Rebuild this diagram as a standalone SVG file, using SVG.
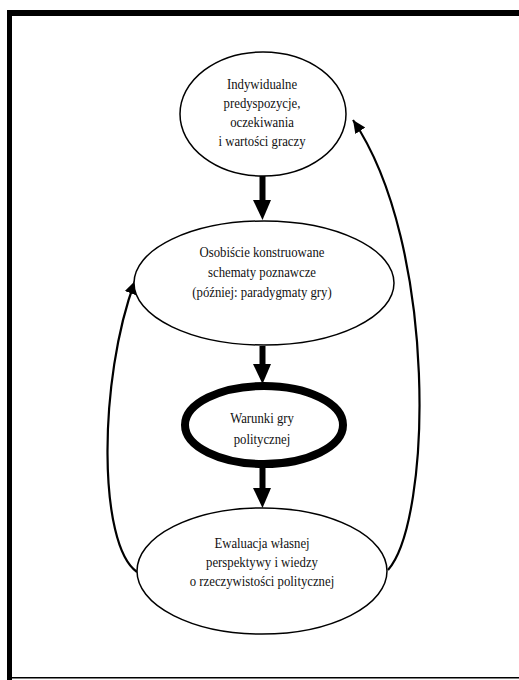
<svg xmlns="http://www.w3.org/2000/svg" width="519" height="680" viewBox="0 0 519 680">
<style>
.node ellipse{fill:#fff;stroke:#000;stroke-width:1.5}
.node text{font-family:"Liberation Serif","Times New Roman",serif;font-size:14.5px;fill:#111;text-anchor:middle}
.thick{stroke:#000;stroke-width:6;fill:none}
.thin{stroke:#000;stroke-width:2.2;fill:none}
</style>
<defs>
<marker id="smallhead" markerUnits="userSpaceOnUse" markerWidth="14" markerHeight="14" refX="13" refY="6" orient="auto" viewBox="0 0 14 12">
<path d="M0,0 L13,6 L0,12 Z" fill="#000"/>
</marker>
</defs>
<rect x="0" y="0" width="519" height="680" fill="#fff"/>
<g id="frame">
<rect x="7" y="10" width="512" height="6" fill="#000"/>
<rect x="7" y="10" width="5" height="670" fill="#000"/>
<rect x="7" y="677" width="512" height="1.5" fill="#000"/>
</g>
<g id="connectors">
<path class="thick" d="M262.5,176 V202"/>
<path d="M253,200 L271,200 L262.5,220 Z" fill="#000"/>
<path class="thick" d="M262.5,346 V366"/>
<path d="M253,364 L271,364 L262.5,384 Z" fill="#000"/>
<path class="thick" d="M262.5,468 V490"/>
<path d="M253,488 L271,488 L262.5,508 Z" fill="#000"/>
<path class="thin" d="M388,570 C432,520 438,245 353,120" marker-end="url(#smallhead)"/>
<path class="thin" d="M137,572 C98,545 98,380 135,281" marker-end="url(#smallhead)"/>
</g>
<g id="n1" class="node">
<ellipse cx="263" cy="114" rx="83" ry="62"/>
<g transform="translate(262,0) scale(0.88,1)">
<text x="0" y="89">Indywidualne</text>
<text x="0" y="108">predyspozycje,</text>
<text x="0" y="127">oczekiwania</text>
<text x="0" y="146">i wartości graczy</text>
</g>
</g>
<g id="n2" class="node">
<ellipse cx="264" cy="283" rx="130" ry="62"/>
<g transform="translate(262,0) scale(0.88,1)">
<text x="0" y="257">Osobiście konstruowane</text>
<text x="0" y="277">schematy poznawcze</text>
<text x="0" y="297">(później: paradygmaty gry)</text>
</g>
</g>
<g id="n3" class="node">
<ellipse cx="264" cy="425" rx="79" ry="39" style="stroke-width:8"/>
<g transform="translate(262,0) scale(0.88,1)">
<text x="0" y="423">Warunki gry</text>
<text x="0" y="444">politycznej</text>
</g>
</g>
<g id="n4" class="node">
<ellipse cx="262" cy="571" rx="125" ry="63"/>
<g transform="translate(262,0) scale(0.88,1)">
<text x="0" y="548">Ewaluacja własnej</text>
<text x="0" y="567">perspektywy i wiedzy</text>
<text x="0" y="586">o rzeczywistości politycznej</text>
</g>
</g>
</svg>
